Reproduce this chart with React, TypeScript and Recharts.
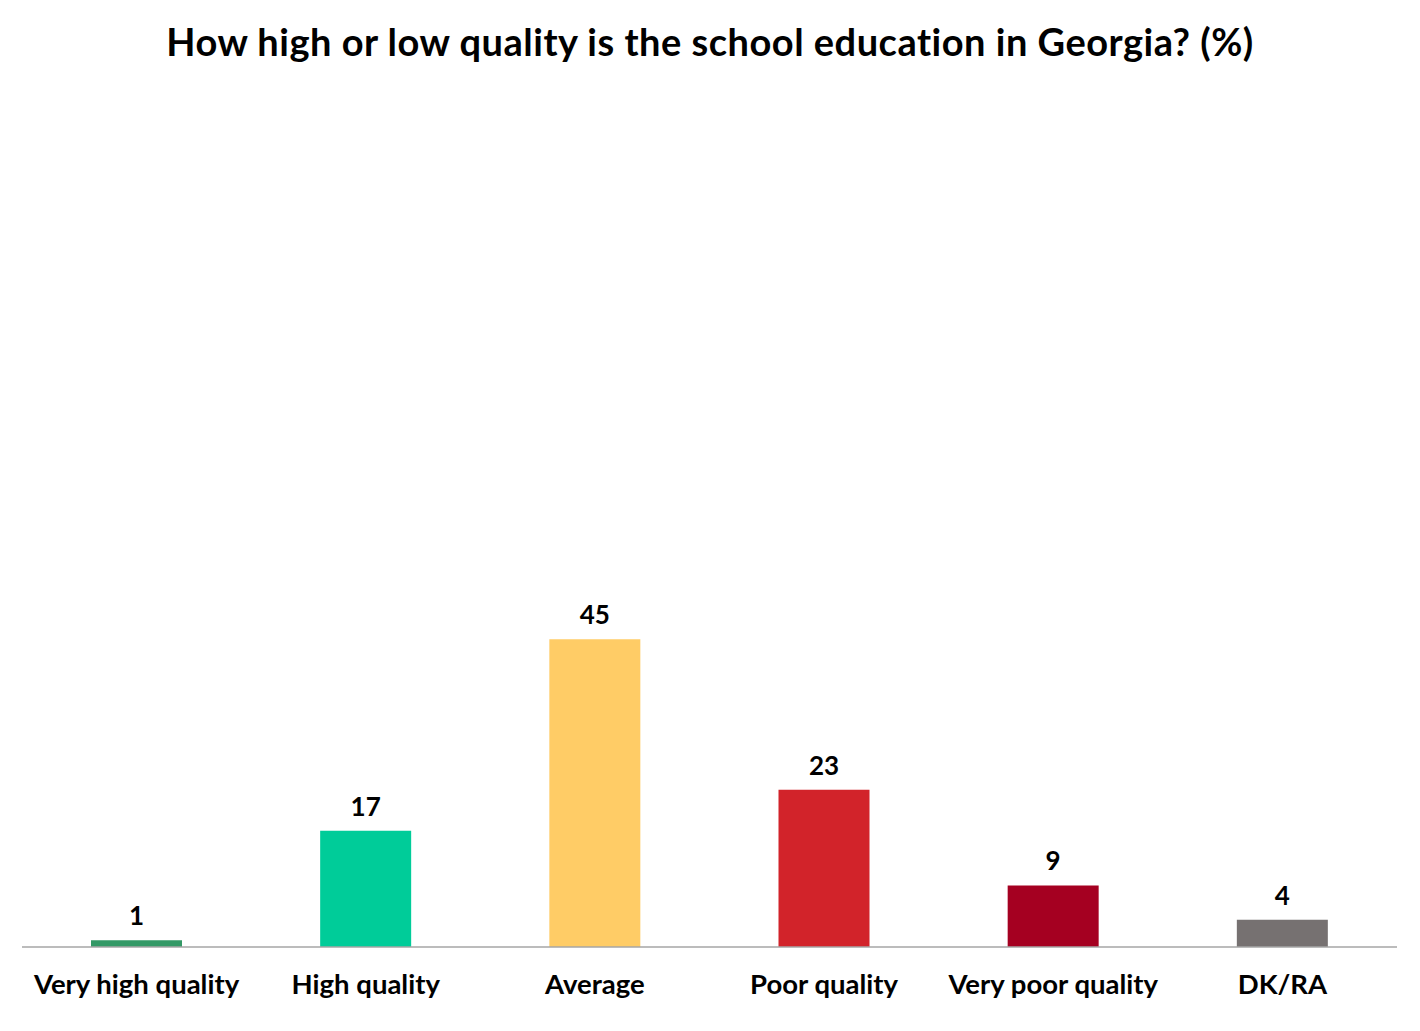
import { Bar, BarChart, Cell, LabelList, XAxis, YAxis } from "recharts";

const categories = [
  "Very high quality",
  "High quality",
  "Average",
  "Poor quality",
  "Very poor quality",
  "DK/RA",
];
const values = [1, 17, 45, 23, 9, 4];
const colors = ["#339966", "#00CC99", "#FFCC66", "#D2232A", "#A50021", "#767171"];

const data = categories.map((name, i) => ({ name, value: values[i] }));

const font = "Lato, 'Open Sans', sans-serif";

function App() {
  return (
    <div
      style={{
        position: "absolute",
        left: 0,
        top: 0,
        width: 1420,
        height: 1031,
        background: "#fff",
        fontFamily: font,
      }}
    >
      <div
        style={{
          position: "absolute",
          top: 17,
          left: 0,
          width: 1420,
          textAlign: "center",
          fontSize: 38,
          letterSpacing: 0.5,
          lineHeight: "48px",
          fontWeight: 700,
          color: "#000",
        }}
      >
        How high or low quality is the school education in Georgia? (%)
      </div>
      <BarChart
        width={1420}
        height={1031}
        data={data}
        margin={{ top: 263, right: 23, left: 22, bottom: 54 }}
      >
        <XAxis
          dataKey="name"
          axisLine={{ stroke: "#A6A6A6", strokeWidth: 1.5 }}
          tickLine={false}
          tickMargin={21}
          tick={{ fill: "#000", fontSize: 27.5, fontWeight: 700, fontFamily: font }}
          interval={0}
        />
        <YAxis hide domain={[0, 100]} />
        <Bar dataKey="value" barSize={91} isAnimationActive={false}>
          {data.map((d, i) => (
            <Cell key={d.name} fill={colors[i]} />
          ))}
          <LabelList
            dataKey="value"
            position="top"
            offset={15}
            style={{ fill: "#000", fontSize: 26, fontWeight: 700, fontFamily: font }}
          />
        </Bar>
      </BarChart>
    </div>
  );
}

export default App;
